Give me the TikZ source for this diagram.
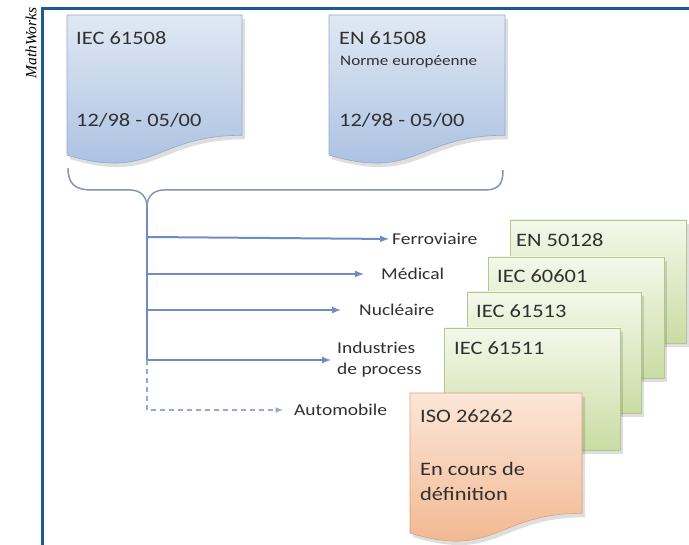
\documentclass[tikz,border=0pt]{standalone}
\usepackage{fontspec}
\setmainfont[FakeStretch=1.18]{Carlito}
\newfontfamily\mwfont{Liberation Serif}
\usepackage{tikz}
\usetikzlibrary{
    arrows,
    calc,
    positioning
}

\definecolor{frameblue}{HTML}{1F5896}
\definecolor{linkblue}{HTML}{6F8DC2}
\definecolor{dashblue}{HTML}{93A8CF}
\definecolor{bracegray}{HTML}{8496B6}
\definecolor{textgray}{HTML}{303030}

\tikzset{
    bluedoc/.style={top color={rgb,255:red,224;green,232;blue,244}, bottom color={rgb,255:red,166;green,190;blue,224}, draw={rgb,255:red,147;green,169;blue,204}, line width=0.6pt},
    greendoc/.style={top color={rgb,255:red,244;green,248;blue,234}, bottom color={rgb,255:red,201;green,220;blue,163}, draw={rgb,255:red,179;green,200;blue,142}, line width=0.6pt},
    orangedoc/.style={top color={rgb,255:red,252;green,230;blue,216}, bottom color={rgb,255:red,241;green,180;blue,138}, draw={rgb,255:red,217;green,162;blue,124}, line width=0.6pt},
    docshadow/.style={fill=black, opacity=0.13},
    pics/docshape/.style args={#1/#2/#3}{
        code={
            \path[docshadow, shift={(3,4)}] (0,0) -- (#1,0) -- (#1,0.802*#2)
                .. controls (0.5*#1,0.802*#2) and (0.5*#1,1.107*#2) .. (0,0.934*#2) -- cycle;
            \path[#3] (0,0) -- (#1,0) -- (#1,0.802*#2)
                .. controls (0.5*#1,0.802*#2) and (0.5*#1,1.107*#2) .. (0,0.934*#2) -- cycle;
        }
    },
    pics/sheet/.style args={#1/#2/#3}{
        code={
            \path[docshadow, shift={(3,4)}] (0,0) rectangle (#1,#2);
            \path[#3] (0,0) rectangle (#1,#2);
        }
    }
}

\begin{document}
\begin{tikzpicture}[x=1pt, y=-1pt,
    doctext/.style={anchor=base west, inner sep=0pt, text=textgray, font=\fontsize{19}{22}\selectfont},
    subtext/.style={anchor=base west, inner sep=0pt, text=textgray, font=\fontsize{14.5}{17}\selectfont},
    branch/.style={anchor=west, inner sep=0pt, text=textgray, font=\fontsize{16.5}{21}\selectfont, align=left},
    flow/.style={draw=linkblue, line width=2pt, ->, >=latex},
    trunk/.style={draw=linkblue, line width=2pt},
    future/.style={draw=dashblue, line width=1.5pt, dashed, dash pattern=on 5pt off 4pt}
]
\useasboundingbox (0,0) rectangle (689,545);

% frame
\draw[frameblue, line width=3pt] (42,545) -- (42,9) -- (689,9);
\node[rotate=90, inner sep=0pt, font=\mwfont\itshape\fontsize{15.5}{16}\selectfont] (mw) at (31,43) {MathWorks};

% norms
\pic at (67,15) {docshape=175/150/bluedoc};
\pic at (329,15) {docshape=176/150/bluedoc};
\node[doctext] (iec) at (76,45) {IEC 61508};
\node[doctext] (iecdate) at (76,127) {12/98 - 05/00};
\node[doctext] (en) at (339,45) {EN 61508};
\node[subtext] (ennote) at (340,66) {Norme européenne};
\node[doctext] (endate) at (339,127) {12/98 - 05/00};

% brace
\coordinate (cusp) at (147,207);
\draw[bracegray, line width=1.5pt] (68,168) .. controls (68,184) and (75,190) .. (92,190) -- (130,190)
    .. controls (141,190) and (147,197) .. (cusp)
    .. controls (147,197) and (153,190) .. (164,190) -- (484,190)
    .. controls (499,190) and (503,184) .. (503,170);

% sectors
\node[branch] (ferro) at (392,239) {Ferroviaire};
\node[branch] (medic) at (381,274) {Médical};
\node[branch] (nucl) at (359,310) {Nucléaire};
\node[branch] (indus) at (337,360) {Industries\\de process};
\node[branch] (auto) at (294,410) {Automobile};

\coordinate (t1) at (147,237);
\coordinate (t2) at (147,274);
\coordinate (t3) at (147,310);
\coordinate (t4) at (147,360);
\coordinate (t5) at (147,410);

\draw[trunk] (cusp) -- (t4);
\draw[flow, shorten >=3pt] (t1) -- (ferro.west);
\draw[flow, shorten >=17pt] (t2) -- (medic.west);
\draw[flow, shorten >=18pt] (t3) -- (nucl.west);
\draw[flow, shorten >=6pt] (t4) -- (indus.west);
\draw[future, ->, >=latex, shorten >=11pt] (t4) -- (t5) -- (auto.west);

% sector standards
\pic at (510,220) {sheet=176/123/greendoc};
\node[doctext] (en50128) at (516,247) {EN 50128};
\pic at (488,257) {sheet=176/121/greendoc};
\node[doctext] (iec60601) at (497,283) {IEC 60601};
\pic at (467,292) {sheet=174/121/greendoc};
\node[doctext] (iec61513) at (476,318) {IEC 61513};
\pic at (444,328) {sheet=176/122/greendoc};
\node[doctext] (iec61511) at (454,355) {IEC 61511};
\pic at (410,393) {docshape=172/150/orangedoc};
\node[doctext] (iso) at (420,423) {ISO 26262};
\node[doctext, align=left, anchor=north west, font=\fontsize{19}{25}\selectfont] (isonote) at (420,462) {En cours de\\définition};
\end{tikzpicture}
\end{document}
